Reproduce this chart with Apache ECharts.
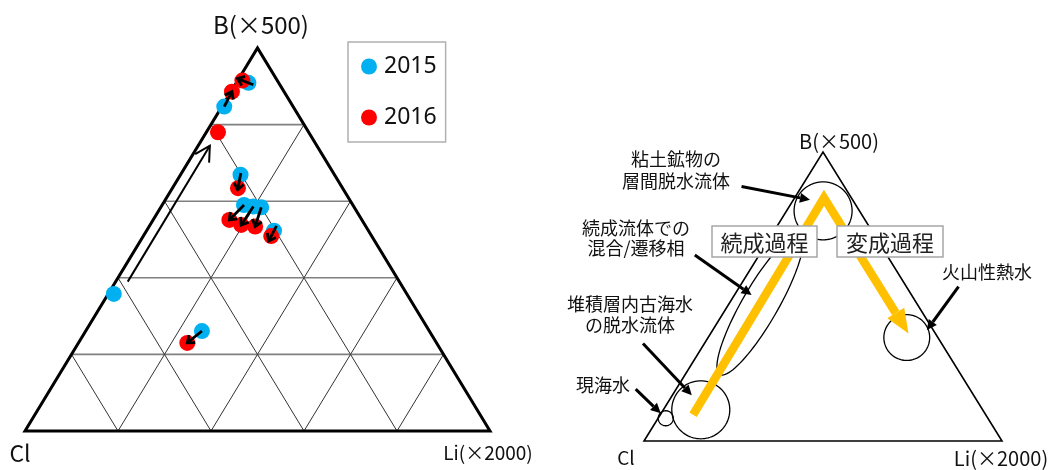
<!DOCTYPE html>
<html><head><meta charset="utf-8">
<script src="https://cdn.jsdelivr.net/npm/echarts@6/dist/echarts.min.js"></script>
<style>html,body{margin:0;padding:0;background:#fff}#c{width:1051px;height:470px}</style>
</head><body><div id="c"></div>
<script>
// ===== DATA (ternary fractions; Cl = 1 - B - Li) =====
const gridTicks = [0.2, 0.4, 0.6, 0.8];
const seriesNames = ['2015', '2016'];
const b2015  = [0.909, 0.847, 0.669, 0.590, 0.586, 0.584, 0.523, 0.261, 0.358];
const li2015 = [0.026, 0.005, 0.129, 0.176, 0.198, 0.216, 0.274, 0.250, 0.012];
const b2016  = [0.915, 0.886, 0.634, 0.551, 0.538, 0.534, 0.509, 0.230, 0.780];
const li2016 = [0.010, 0.002, 0.141, 0.164, 0.196, 0.228, 0.275, 0.234, 0.025];
const pairedCount = 8;                 // first 8 sites have 2015->2016 arrows
const trendFrom = [0.39, 0.026];       // [B, Li] long trend arrow
const trendTo   = [0.745, 0.025];

// schematic zones (right diagram)
const zoneNames = ['粘土鉱物の\n層間脱水流体', '続成流体での\n混合/遷移相', '堆積層内古海水\nの脱水流体', '現海水', '火山性熱水'];
const zoneB    = [0.7965, 0.4705, 0.108, 0.0787, 0.358];
const zoneLi   = [0.102, 0.0885, 0.1046, 0.0214, 0.555];
const zoneSemiMajor = [0.081, 0.224, 0.081, 0.021, 0.064];
const zoneSemiMinor = [0.081, 0.050, 0.081, 0.021, 0.064];
const zoneTilt = [0, 60, 0, 0, 0];
const pathB  = [0.0908, 0.8415, 0.3724];
const pathLi = [0.0917, 0.082, 0.5525];
const processLabels = ['続成過程', '変成過程'];
const vertexLabels = ['B(×500)', 'Cl', 'Li(×2000)'];

// ===== helpers =====
const tern = (b, li) => [li + b / 2, b];
const pts15 = b2015.map((b, i) => tern(b, li2015[i]));
const pts16 = b2016.map((b, i) => tern(b, li2016[i]));
const arrowData = [];
for (let i = 0; i < pairedCount; i++) arrowData.push([...pts15[i], ...pts16[i], 0]);
arrowData.push([...tern(trendFrom[0], trendFrom[1]), ...tern(trendTo[0], trendTo[1]), 1]);

function rot(ux, uy, a) { return [ux * Math.cos(a) - uy * Math.sin(a), ux * Math.sin(a) + uy * Math.cos(a)]; }

function renderFrame(params, api) {
  const P = (x, y) => api.coord([x, y]);
  const ch = [];
  gridTicks.forEach(k => {
    let a = P(k / 2, k), b = P(1 - k / 2, k);
    ch.push({type: 'line', shape: {x1: a[0], y1: a[1], x2: b[0], y2: b[1]}, style: {stroke: '#808080', lineWidth: 1.6}});
    a = P(k, 0); b = P(k + (1 - k) / 2, 1 - k);
    ch.push({type: 'line', shape: {x1: a[0], y1: a[1], x2: b[0], y2: b[1]}, style: {stroke: '#333', lineWidth: 1}});
    a = P(1 - k, 0); b = P((1 - k) / 2, 1 - k);
    ch.push({type: 'line', shape: {x1: a[0], y1: a[1], x2: b[0], y2: b[1]}, style: {stroke: '#333', lineWidth: 1}});
  });
  ch.push({type: 'polygon', shape: {points: [P(0, 0), P(1, 0), P(0.5, 1)]}, style: {stroke: '#000', lineWidth: 3, fill: null, lineJoin: 'miter'}});
  return {type: 'group', children: ch};
}

function renderArrow(params, api) {
  const s = api.coord([api.value(0), api.value(1)]);
  const e = api.coord([api.value(2), api.value(3)]);
  const big = api.value(4) === 1;
  const dx = e[0] - s[0], dy = e[1] - s[1];
  const len = Math.hypot(dx, dy) || 1;
  const ux = dx / len, uy = dy / len;
  let p0 = s, p1 = e;
  if (!big && len < 16) {
    const m = [(s[0] + e[0]) / 2, (s[1] + e[1]) / 2];
    p0 = [m[0] - ux * 8.5, m[1] - uy * 8.5];
    p1 = [m[0] + ux * 8.5, m[1] + uy * 8.5];
  }
  const hl = big ? 17 : 8, ang = big ? 0.5 : 0.65;
  const r1 = rot(ux, uy, ang), r2 = rot(ux, uy, -ang);
  const h1 = [p1[0] - hl * r1[0], p1[1] - hl * r1[1]];
  const h2 = [p1[0] - hl * r2[0], p1[1] - hl * r2[1]];
  const lw = big ? 2 : 2.8;
  return {type: 'group', children: [
    {type: 'line', shape: {x1: p0[0], y1: p0[1], x2: p1[0], y2: p1[1]}, style: {stroke: '#000', lineWidth: lw}},
    {type: 'polyline', shape: {points: [h1, p1, h2]}, style: {stroke: '#000', lineWidth: lw, fill: null}}
  ]};
}

// right schematic leader arrows, in right-grid cartesian fractions [x1,y1,x2,y2]
const leaders = [
  [0.2725, 0.8807, 0.4636, 0.8346],
  [0.1419, 0.6439, 0.3005, 0.5052],
  [-0.0028, 0.3377, 0.1335, 0.1584],
  [-0.0232, 0.1793, 0.0467, 0.0960],
  [0.8786, 0.5340, 0.7902, 0.3838]
];
function renderSchematic(params, api) {
  const P = (x, y) => api.coord([x, y]);
  const unit = api.size([1, 0])[0];
  const ch = [];
  ch.push({type: 'polygon', shape: {points: [P(0, 0), P(1, 0), P(0.5, 1)]}, style: {stroke: '#000', lineWidth: 1.6, fill: null}});
  zoneB.forEach((b, i) => {
    const c = P(...tern(b, zoneLi[i]));
    const a = zoneSemiMajor[i] * unit, bb = zoneSemiMinor[i] * unit, th = zoneTilt[i] * Math.PI / 180;
    const d = [Math.cos(th), -Math.sin(th)], n = [Math.sin(th), Math.cos(th)];
    const pts = [];
    for (let t = 0; t < 96; t++) {
      const an = t / 96 * Math.PI * 2;
      const u = a * Math.cos(an), v = bb * Math.sin(an);
      pts.push([c[0] + u * d[0] + v * n[0], c[1] + u * d[1] + v * n[1]]);
    }
    ch.push({type: 'polygon', shape: {points: pts}, style: {stroke: '#000', lineWidth: 1.3, fill: null}});
  });
  const pp = pathB.map((b, i) => P(...tern(b, pathLi[i])));
  const tip = pp[pp.length - 1], prev = pp[pp.length - 2];
  const L = Math.hypot(tip[0] - prev[0], tip[1] - prev[1]);
  const ux = (tip[0] - prev[0]) / L, uy = (tip[1] - prev[1]) / L;
  const hl = 24, hw = 10;
  const base = [tip[0] - ux * hl, tip[1] - uy * hl];
  const line = pp.slice(0, -1).concat([base]);
  ch.push({type: 'polyline', shape: {points: line}, style: {stroke: '#FFC000', lineWidth: 8.5, fill: null, lineJoin: 'miter', lineCap: 'butt'}});
  ch.push({type: 'polygon', shape: {points: [tip, [base[0] - uy * hw, base[1] + ux * hw], [base[0] + uy * hw, base[1] - ux * hw]]}, style: {fill: '#FFC000'}});
  leaders.forEach(l => {
    const s = P(l[0], l[1]), e = P(l[2], l[3]);
    const dx = e[0] - s[0], dy = e[1] - s[1], len = Math.hypot(dx, dy);
    const vx = dx / len, vy = dy / len;
    const ah = 10, aw = 5;
    const bs = [e[0] - vx * ah, e[1] - vy * ah];
    ch.push({type: 'line', shape: {x1: s[0], y1: s[1], x2: bs[0], y2: bs[1]}, style: {stroke: '#000', lineWidth: 3}});
    ch.push({type: 'polygon', shape: {points: [e, [bs[0] - vy * aw, bs[1] + vx * aw], [bs[0] + vy * aw, bs[1] - vx * aw]]}, style: {fill: '#000'}});
  });
  return {type: 'group', children: ch};
}

const jp = '"Noto Sans CJK JP", "Noto Sans", sans-serif';
const txt = (t, x, y, size, lh) => ({type: 'text', x: x, y: y, z: 100,
  style: {text: t, font: size + 'px ' + jp, fill: '#111', align: 'center', verticalAlign: 'middle', lineHeight: lh || Math.round(size * 1.2)}});
const box = (t, x, y, w, h) => [
  {type: 'rect', z: 100, shape: {x: x, y: y, width: w, height: h}, style: {fill: '#fff', stroke: '#a6a6a6', lineWidth: 1.5}},
  {type: 'text', z: 101, x: x + w / 2, y: y + h / 2 + 1, style: {text: t, font: '22px ' + jp, fill: '#222', align: 'center', verticalAlign: 'middle'}}
];

const option = {
  backgroundColor: '#fff',
  animation: false,
  grid: [
    {left: 25, top: 48, width: 465, height: 383},
    {left: 644, top: 152, width: 358, height: 289}
  ],
  xAxis: [
    {gridIndex: 0, type: 'value', min: 0, max: 1, show: false},
    {gridIndex: 1, type: 'value', min: 0, max: 1, show: false}
  ],
  yAxis: [
    {gridIndex: 0, type: 'value', min: 0, max: 1, show: false},
    {gridIndex: 1, type: 'value', min: 0, max: 1, show: false}
  ],
  legend: {
    data: seriesNames, orient: 'vertical', left: 348, top: 42,
    padding: [13, 9, 13, 13], itemGap: 28, icon: 'circle', itemWidth: 16, itemHeight: 16,
    borderColor: '#b0b0b0', borderWidth: 1.5,
    textStyle: {fontSize: 23, color: '#111', fontFamily: '"Noto Sans", sans-serif', padding: [0, 0, 0, 2]}
  },
  graphic: [
    txt(vertexLabels[0], 261, 25, 24),
    txt(vertexLabels[1], 20, 453, 23),
    txt(vertexLabels[2], 488, 453, 19),
    txt(vertexLabels[0], 839, 141, 20),
    txt(vertexLabels[1], 626, 458, 19),
    txt(vertexLabels[2], 1001, 458, 20),
    txt(zoneNames[0], 676, 170.5, 18, 22),
    txt(zoneNames[1], 636, 238.5, 18, 20),
    txt(zoneNames[2], 630, 315, 18, 21),
    txt(zoneNames[3], 603, 385, 18),
    txt(zoneNames[4], 987, 272, 18),
    ...box(processLabels[0], 712, 226, 105, 31),
    ...box(processLabels[1], 837, 226, 106, 31)
  ],
  series: [
    {type: 'custom', xAxisIndex: 0, yAxisIndex: 0, data: [[0, 0]], renderItem: renderFrame, silent: true, clip: false, z: 1},
    {type: 'scatter', name: seriesNames[0], xAxisIndex: 0, yAxisIndex: 0, data: pts15, symbolSize: 16, itemStyle: {color: '#00B0F0', opacity: 1}, z: 3, clip: false},
    {type: 'scatter', name: seriesNames[1], xAxisIndex: 0, yAxisIndex: 0, data: pts16, symbolSize: 16, itemStyle: {color: '#FF0000', opacity: 1}, z: 4, clip: false},
    {type: 'custom', xAxisIndex: 0, yAxisIndex: 0, data: arrowData, encode: {x: [0, 2], y: [1, 3]}, renderItem: renderArrow, silent: true, clip: false, z: 5},
    {type: 'custom', xAxisIndex: 1, yAxisIndex: 1, data: [[0, 0]], renderItem: renderSchematic, silent: true, clip: false, z: 2}
  ]
};
const chart = echarts.init(document.getElementById('c'));
chart.setOption(option);
</script></body></html>
